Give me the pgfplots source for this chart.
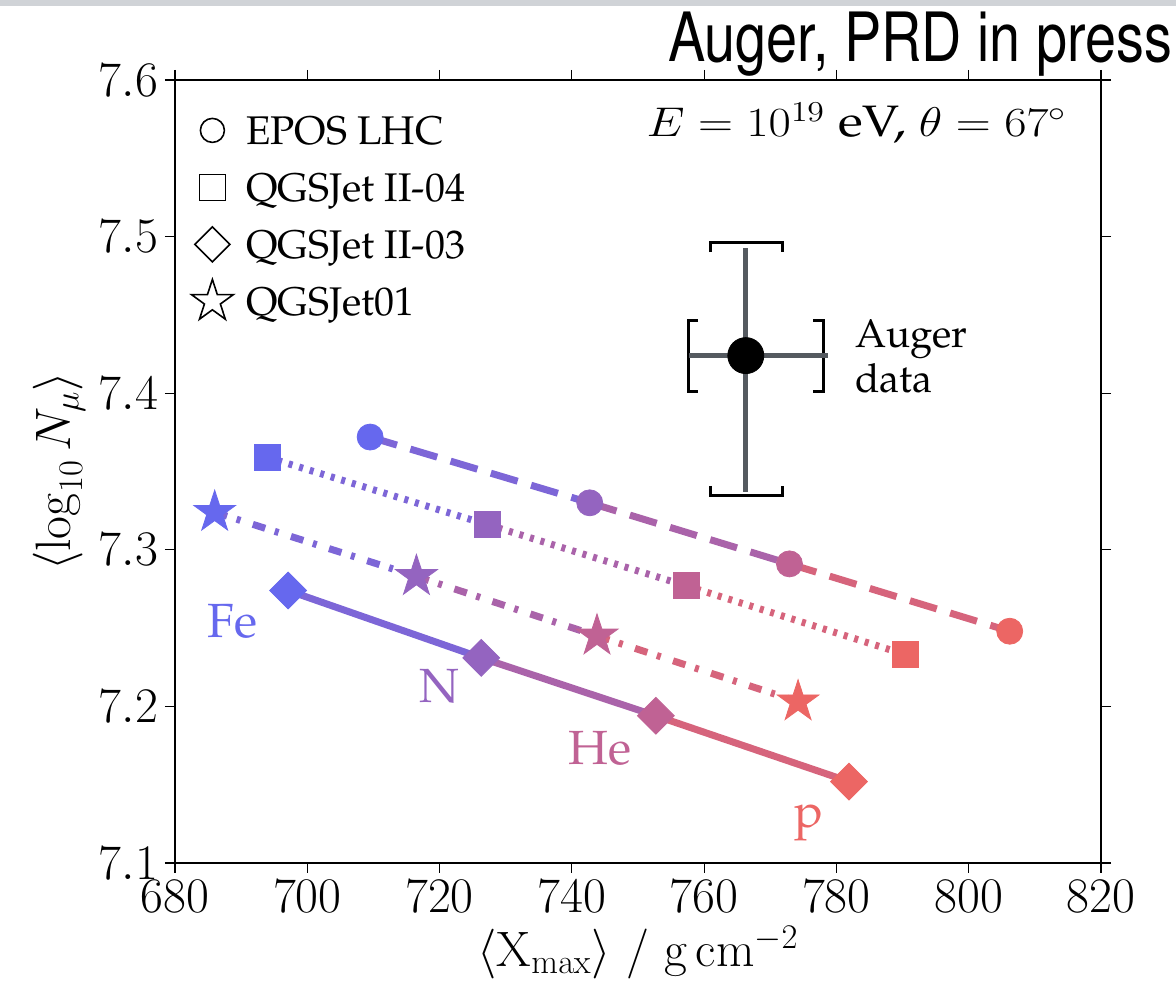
\documentclass[border=0pt]{standalone}
\usepackage[T1,TU]{fontenc}
\usepackage{graphicx}
\usepackage{pgfplots}
\pgfplotsset{compat=1.18}
\newcommand\pal{\fontencoding{T1}\fontfamily{ppl}\selectfont}
\newcommand\hv{\fontencoding{T1}\fontfamily{phv}\selectfont}
\definecolor{cFe}{RGB}{102,104,238}
\definecolor{cN}{RGB}{148,100,192}
\definecolor{cHe}{RGB}{192,98,148}
\definecolor{cp}{RGB}{236,102,100}
\definecolor{statgray}{RGB}{85,90,96}
\definecolor{topgray}{RGB}{208,211,215}
\pgfdeclareplotmark{fstar}{%
  \pgfpathmoveto{\pgfpointpolar{90}{\pgfplotmarksize}}%
  \pgfpathlineto{\pgfpointpolar{126}{0.382\pgfplotmarksize}}%
  \pgfpathlineto{\pgfpointpolar{162}{\pgfplotmarksize}}%
  \pgfpathlineto{\pgfpointpolar{198}{0.382\pgfplotmarksize}}%
  \pgfpathlineto{\pgfpointpolar{234}{\pgfplotmarksize}}%
  \pgfpathlineto{\pgfpointpolar{270}{0.382\pgfplotmarksize}}%
  \pgfpathlineto{\pgfpointpolar{306}{\pgfplotmarksize}}%
  \pgfpathlineto{\pgfpointpolar{342}{0.382\pgfplotmarksize}}%
  \pgfpathlineto{\pgfpointpolar{18}{\pgfplotmarksize}}%
  \pgfpathlineto{\pgfpointpolar{54}{0.382\pgfplotmarksize}}%
  \pgfpathclose\pgfusepathqfillstroke}
\pgfplotsset{colormap={aug}{rgb255(0cm)=(102,104,238) rgb255(1cm)=(148,100,192) rgb255(2cm)=(192,98,148) rgb255(3cm)=(236,102,100)}}
\begin{document}
\begin{tikzpicture}
\path[use as bounding box] (-87.5pt,-62.5pt) rectangle (500.5pt,431.5pt);
\fill[topgray] (-87.5pt,428.5pt) rectangle (500.5pt,431.5pt);
\begin{axis}[
  at={(0,0)}, anchor=south west,
  width=463pt, height=391.5pt, scale only axis,
  xmin=680, xmax=820, ymin=7.1, ymax=7.6,
  xtick={680,700,...,820}, ytick={7.1,7.2,7.3,7.4,7.5,7.6},
  yticklabel style={/pgf/number format/fixed, /pgf/number format/precision=1},
  tick align=outside, major tick length=5pt,
  every tick/.style={black, line width=0.6pt},
  axis line style={line width=1.2pt},
  ticklabel style={font=\fontsize{25}{30}\selectfont},
  label style={font=\fontsize{25}{30}\selectfont},
  xlabel={$\langle \mathrm{X}_{\mathrm{max}}\rangle$ / $\mathrm{g\,cm^{-2}}$},
  ylabel={$\langle \log_{10} N_{\mu}\rangle$},
  colormap name=aug, point meta min=0, point meta max=3,
  clip=false,
  legend cell align=left,
  legend style={at={(0,1)}, anchor=north west, xshift=7.5pt, yshift=-12pt,
    draw=none, fill=none, inner sep=0pt, row sep=3.5pt, column sep=6pt,
    font=\pal\fontsize{20}{24}\selectfont,
    nodes={inner sep=0pt, text height=15pt, text depth=5pt}},
  legend image code/.code={%
    \pgfpathrectangle{\pgfpoint{-11pt}{-5pt}}{\pgfpoint{22pt}{20pt}}\pgfusepath{discard}%
    \draw[#1,overlay] plot coordinates {(0pt,2pt)};},
]
\addlegendimage{only marks, mark=o, mark size=6pt, black, line width=0.8pt}
\addlegendentry{EPOS LHC}
\addlegendimage{only marks, mark=square, mark size=6.5pt, black, line width=0.8pt}
\addlegendentry{QGSJet II-04}
\addlegendimage{only marks, mark=square, mark size=6.2pt, mark options={rotate=45}, black, line width=0.8pt}
\addlegendentry{QGSJet II-03}
\addlegendimage{only marks, mark=fstar, mark size=11pt, draw=black, fill=white, line width=0.8pt}
\addlegendentry{QGSJet01}

% EPOS LHC
\addplot[mesh, point meta=explicit, mark=none, line width=3.5pt, dash pattern=on 14pt off 7pt, forget plot]
  coordinates {(709.5,7.372) [0] (742.7,7.330) [1] (772.9,7.291) [2] (806.2,7.248) [3]};
\addplot[scatter, only marks, mark=*, mark size=6.5pt, point meta=explicit,
  scatter/use mapped color={draw=mapped color, fill=mapped color}, forget plot]
  coordinates {(709.5,7.372) [0] (742.7,7.330) [1] (772.9,7.291) [2] (806.2,7.248) [3]};
% QGSJet II-04
\addplot[mesh, point meta=explicit, mark=none, line width=3.5pt, dash pattern=on 2pt off 3.5pt, forget plot]
  coordinates {(694.0,7.359) [0] (727.3,7.316) [1] (757.3,7.277) [2] (790.5,7.233) [3]};
\addplot[scatter, only marks, mark=square*, mark size=6.5pt, point meta=explicit,
  scatter/use mapped color={draw=mapped color, fill=mapped color}, forget plot]
  coordinates {(694.0,7.359) [0] (727.3,7.316) [1] (757.3,7.277) [2] (790.5,7.233) [3]};
% QGSJet II-03
\addplot[mesh, point meta=explicit, mark=none, line width=3.5pt, forget plot]
  coordinates {(697.1,7.274) [0] (726.3,7.231) [1] (752.7,7.194) [2] (781.9,7.152) [3]};
\addplot[scatter, only marks, mark=square*, mark size=6.5pt, mark options={rotate=45}, point meta=explicit,
  scatter/use mapped color={draw=mapped color, fill=mapped color}, forget plot]
  coordinates {(697.1,7.274) [0] (726.3,7.231) [1] (752.7,7.194) [2] (781.9,7.152) [3]};
% QGSJet01
\addplot[mesh, point meta=explicit, mark=none, line width=3.5pt, dash pattern=on 6.5pt off 5pt on 2pt off 6.5pt, forget plot]
  coordinates {(686.0,7.324) [0] (716.5,7.283) [1] (743.8,7.245) [2] (774.2,7.203) [3]};
\addplot[scatter, only marks, mark=fstar, mark size=11pt, point meta=explicit,
  scatter/use mapped color={draw=mapped color, fill=mapped color}, forget plot]
  coordinates {(686.0,7.324) [0] (716.5,7.283) [1] (743.8,7.245) [2] (774.2,7.203) [3]};

% Auger data: systematic brackets
\draw[line width=1.5pt, black]
  (axis cs:760.9,7.4901) -- (axis cs:760.9,7.4965) -- (axis cs:771.8,7.4965) -- (axis cs:771.8,7.4901)
  (axis cs:760.9,7.3408) -- (axis cs:760.9,7.3344) -- (axis cs:771.8,7.3344) -- (axis cs:771.8,7.3408)
  (axis cs:759.1,7.4467) -- (axis cs:757.6,7.4467) -- (axis cs:757.6,7.4008) -- (axis cs:759.1,7.4008)
  (axis cs:776.5,7.4467) -- (axis cs:778.0,7.4467) -- (axis cs:778.0,7.4008) -- (axis cs:776.5,7.4008);
\addplot[only marks, mark=*, mark size=9pt, black, forget plot] coordinates {(766.3,7.424)};
\addplot[only marks, mark=none, forget plot,
  error bars/.cd, x dir=both, y dir=both, x explicit, y explicit, error mark=none,
  error bar style={draw=statgray, line width=2.5pt}]
  coordinates {(766.3,7.424) += (12.4,0.069) -= (8.6,0.087)};

% labels
\node[anchor=base west, inner sep=0pt, font=\pal\fontsize{20}{24}\selectfont] at (axis cs:782.8,7.4289) {Auger};
\node[anchor=base west, inner sep=0pt, font=\pal\fontsize{20}{24}\selectfont] at (axis cs:782.8,7.4289) [yshift=-22.5pt] {data};
\node[anchor=base east, inner sep=0pt, font=\pal\fontsize{22}{26}\selectfont] at (axis cs:814.9,7.5636) {\scalebox{1.17}[1]{$E = 10^{19}$ eV, $\theta = 67^\circ$}};
\node[anchor=base, inner sep=0pt, text=cFe, font=\pal\fontsize{24}{28}\selectfont] at (axis cs:688.7,7.2437) {Fe};
\node[anchor=base, inner sep=0pt, text=cN, font=\pal\fontsize{24}{28}\selectfont] at (axis cs:720.0,7.2022) {N};
\node[anchor=base, inner sep=0pt, text=cHe, font=\pal\fontsize{24}{28}\selectfont] at (axis cs:744.2,7.1632) {He};
\node[anchor=base, inner sep=0pt, text=cp, font=\pal\fontsize{24}{28}\selectfont] at (axis cs:775.8,7.1224) {p};
\end{axis}
\node[anchor=base east, inner sep=0pt, font=\hv\fontsize{34}{40}\selectfont] at (499pt,400.5pt) {\scalebox{0.82}[1]{Auger, PRD in press}};
\end{tikzpicture}
\end{document}
